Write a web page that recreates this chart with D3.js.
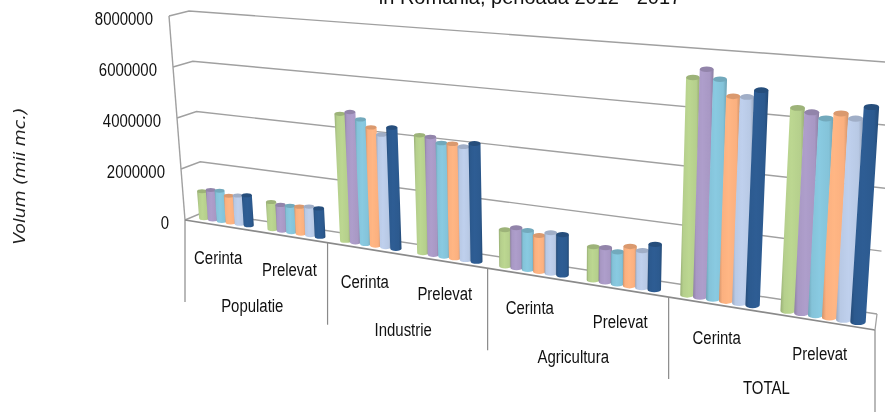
<!DOCTYPE html>
<html>
<head>
<meta charset="utf-8">
<title>Volum</title>
<script src="https://d3js.org/d3.v7.min.js"></script>
<style>
    html, body { margin: 0; padding: 0; background: #fff; overflow: hidden; }
    svg { display: block; filter: blur(0.35px); }
    text { fill: #111; }
    .small { font-family: "Liberation Sans", Arial, sans-serif; font-size: 18px; }
</style>
</head>
<body>
<div id="chart"></div>
<script>
// values, one array per year (no legend is visible)
const groups = ["Populatie", "Industrie", "Agricultura", "TOTAL"];
const kinds = ["Cerinta", "Prelevat"];
const years = ["2012", "2013", "2014", "2015", "2016", "2017"];
const yTicks = [0, 2000000, 4000000, 6000000, 8000000];
const y2012 = [1050000, 1030000, 4690000, 4240000, 1270000, 1130000, 7180000, 6500000];
const y2013 = [1150000, 970000, 4800000, 4220000, 1400000, 1160000, 7490000, 6400000];
const y2014 = [1170000, 990000, 4570000, 4050000, 1360000, 1080000, 7200000, 6250000];
const y2015 = [1030000, 1010000, 4320000, 4070000, 1240000, 1320000, 6680000, 6450000];
const y2016 = [1090000, 1070000, 4100000, 4010000, 1400000, 1240000, 6700000, 6330000];
const y2017 = [1150000, 1050000, 4400000, 4170000, 1390000, 1510000, 6960000, 6740000];
const seriesValues = [y2012, y2013, y2014, y2015, y2016, y2017];
const colors = ["#b5cf8c", "#a898c4", "#84c3d9", "#fbb07f", "#b8c9e5", "#2c5a8f"];

const width = 885;
const height = 412;

const svg = d3.select("#chart").append("svg")
    .attr("width", width)
    .attr("height", height);

// the chart is a 3d perspective, so things get bigger going right
const p = 0.28;
function persp(u) { return u / (1 + p - p * u); }

const frontX = d3.scaleLinear().domain([0, 1]).range([185, 875]);
const frontY = d3.scaleLinear().domain([185, 875]).range([220, 330]);
const barX = d3.scaleLinear().domain([0, 1]).range([204, 858]);
const barBaseY = d3.scaleLinear().domain([204, 858]).range([218.2, 322]);

// 8M on the y axis, as a fraction, then height in px at a given x
const valueScale = d3.scaleLinear().domain([0, 8000000]).range([0, 1]);
const barHeight = d3.scaleLinear().domain([204, 858]).range([205.6, 255.2]);
const leanScale = d3.scaleLinear().domain([185, 865]).range([-0.078, 0.064]);

// wall corners going up with the value
const wallFrontX = d3.scaleLinear().domain([0, 1]).range([185, 169]);
const wallFrontY = d3.scaleLinear().domain([0, 1]).range([220, 16]);
const wallBackX = d3.scaleLinear().domain([0, 1]).range([204, 189]);
const wallBackY = d3.scaleLinear().domain([0, 1]).range([212, 11]);
const wallRightX = d3.scaleLinear().domain([0, 1]).range([877, 895]);
const wallRightY = d3.scaleLinear().domain([0, 1]).range([314, 62.7]);

const gridColor = "#a0a0a0";
const axisColor = "#8a8a8a";

// squeeze a label, the original font is narrower than what is installed
function squeeze(sel) {
    sel.each(function() {
        this.setAttribute("textLength", this.getComputedTextLength() * 0.83);
        this.setAttribute("lengthAdjust", "spacingAndGlyphs");
    });
}

// walls
const grid = svg.append("g").attr("fill", "none").attr("stroke", gridColor).attr("stroke-width", 1.4);
yTicks.forEach(function(v) {
    const t = valueScale(v);
    grid.append("polyline")
        .attr("points", [
            [wallFrontX(t), wallFrontY(t)],
            [wallBackX(t), wallBackY(t)],
            [wallRightX(t), wallRightY(t)]
        ].join(" "));
});
grid.append("line")
    .attr("x1", wallFrontX(0)).attr("y1", wallFrontY(0))
    .attr("x2", wallFrontX(1)).attr("y2", wallFrontY(1));

// floor edge
svg.append("line")
    .attr("x1", frontX(0)).attr("y1", frontY(frontX(0)))
    .attr("x2", frontX(1)).attr("y2", frontY(frontX(1)))
    .attr("stroke", axisColor).attr("stroke-width", 1.7);
svg.append("line")
    .attr("x1", frontX(1)).attr("y1", frontY(frontX(1)))
    .attr("x2", wallRightX(0)).attr("y2", wallRightY(0))
    .attr("stroke", gridColor).attr("stroke-width", 1.2);

// separators under the floor
d3.range(groups.length + 1).forEach(function(i) {
    const x = frontX(persp(i / groups.length));
    svg.append("line")
        .attr("x1", x).attr("y1", frontY(x))
        .attr("x2", x).attr("y2", frontY(x) + 82)
        .attr("stroke", axisColor).attr("stroke-width", 1.2);
});

// cylinder shading
const defs = svg.append("defs");
colors.forEach(function(c, i) {
    const base = d3.color(c);
    const grad = defs.append("linearGradient").attr("id", "bar" + i);
    grad.append("stop").attr("offset", "0%").attr("stop-color", base.darker(0.5));
    grad.append("stop").attr("offset", "15%").attr("stop-color", base);
    grad.append("stop").attr("offset", "45%").attr("stop-color", base.brighter(0.1));
    grad.append("stop").attr("offset", "82%").attr("stop-color", base);
    grad.append("stop").attr("offset", "100%").attr("stop-color", base.darker(0.55));
});

// bars, left to right so the next one overlaps the last
const groupPeriod = 7.6;
const slotCount = 7 * groupPeriod + years.length - 1;
const slot = d3.scaleLinear().domain([0, slotCount]).range([0, 1]);

function slotX(s) { return barX(persp(slot(s))); }

const barsG = svg.append("g");
seriesValues[0].forEach(function(_, g) {
    seriesValues.forEach(function(series, i) {
        const s = g * groupPeriod + i;
        const x = slotX(s);
        const w = slotX(s + 0.5) - slotX(s - 0.5) + 1;
        const y0 = barBaseY(x);
        const h = valueScale(series[g]) * barHeight(x);
        const xTop = x + leanScale(x) * h;
        const yTop = y0 - h;
        const rx = w / 2;
        const ry = w * 0.2;
        const bar = barsG.append("g");
        bar.append("path")
            .attr("d", "M" + (xTop - rx) + "," + yTop
                + " L" + (x - rx) + "," + y0
                + " A" + rx + "," + ry + " 0 0 0 " + (x + rx) + "," + y0
                + " L" + (xTop + rx) + "," + yTop + " Z")
            .attr("fill", "url(#bar" + i + ")");
        bar.append("ellipse")
            .attr("cx", xTop).attr("cy", yTop)
            .attr("rx", rx).attr("ry", ry)
            .attr("fill", d3.color(colors[i]).darker(0.4));
    });
});

// y tick labels
svg.append("g").selectAll("text")
    .data(yTicks)
    .enter()
    .append("text")
    .attr("class", "small")
    .attr("text-anchor", "end")
    .attr("x", d => wallFrontX(valueScale(d)) - 16)
    .attr("y", d => wallFrontY(valueScale(d)) + 9)
    .text(d => d)
    .call(squeeze);

// axis labels under the floor
groups.forEach(function(name, g) {
    kinds.forEach(function(kind, k) {
        const x = frontX(persp((g + 0.25 + k * 0.5) / groups.length)) - 1;
        svg.append("text")
            .attr("class", "small")
            .attr("text-anchor", "middle")
            .attr("x", x)
            .attr("y", frontY(x) + 39)
            .text(kind)
            .call(squeeze);
    });
    const x = frontX(persp((g + 0.5) / groups.length)) - 2;
    svg.append("text")
        .attr("class", "small")
        .attr("text-anchor", "middle")
        .attr("x", x)
        .attr("y", frontY(x) + 81)
        .text(name)
        .call(squeeze);
});

// title is cut off by the top of the picture
svg.append("text")
    .attr("x", 530)
    .attr("y", 4)
    .attr("text-anchor", "middle")
    .style("font-family", "'Liberation Sans', Arial, sans-serif")
    .style("font-size", "20px")
    .text("in Romania, perioada 2012 - 2017");

svg.append("text")
    .attr("transform", "translate(25,176) rotate(-90)")
    .attr("text-anchor", "middle")
    .attr("textLength", 137)
    .attr("lengthAdjust", "spacingAndGlyphs")
    .style("font-family", "'DejaVu Sans', Verdana, sans-serif")
    .style("font-size", "15.5px")
    .style("font-style", "italic")
    .style("fill", "#222")
    .text("Volum (mii mc.)");
</script>
</body>
</html>
